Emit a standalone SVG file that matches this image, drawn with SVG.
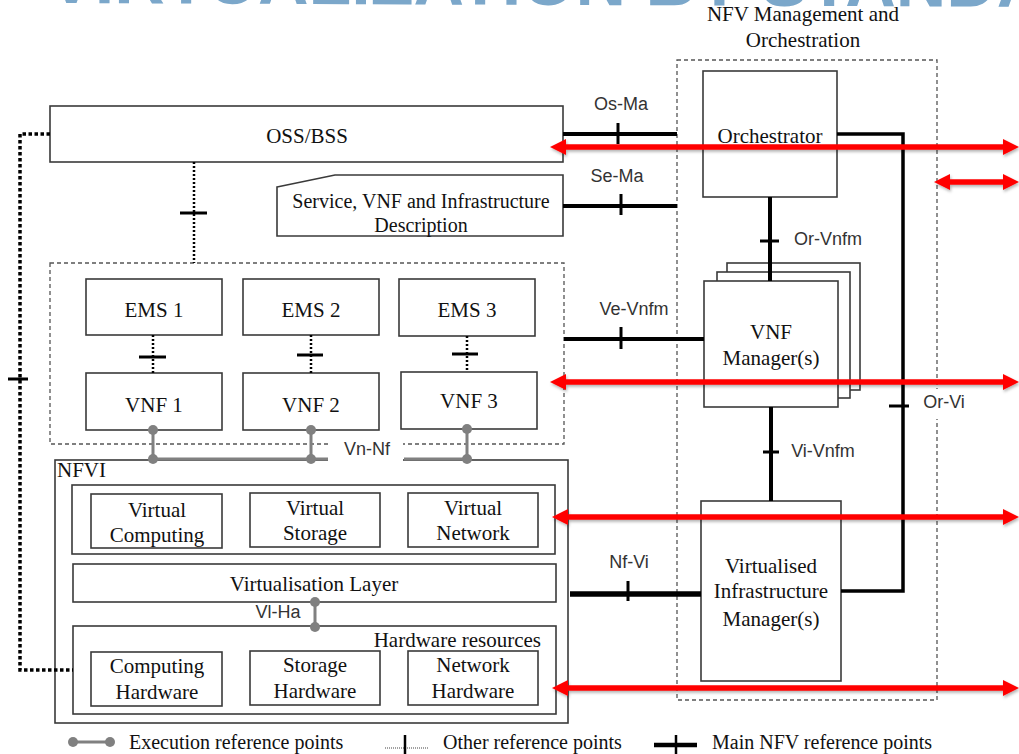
<svg xmlns="http://www.w3.org/2000/svg" width="1019" height="754" viewBox="0 0 1019 754">
<style>
.box{fill:#fff;stroke:#3a3a3a;stroke-width:1.6}
.dash{fill:none;stroke:#555;stroke-width:1.3;stroke-dasharray:4 3}
.main{stroke:#000;stroke-width:4;fill:none}
.tick{stroke:#000;stroke-width:3}
.other{stroke:#000;stroke-width:2.5;stroke-dasharray:2 2;fill:none}
.exec{stroke:#808080;stroke-width:3;fill:none}
.dot{fill:#808080}
.t{font-family:"Liberation Serif","Times New Roman",serif;font-size:21px;fill:#111;text-anchor:middle}
.l{font-family:"Liberation Sans",Arial,sans-serif;font-size:18px;fill:#333;text-anchor:middle}
.lg{font-family:"Liberation Serif","Times New Roman",serif;font-size:20px;fill:#111}
.red{stroke:#ff0000;stroke-width:5.5;marker-start:url(#ah);marker-end:url(#ah)}
</style>
<defs>
<marker id="ah" viewBox="0 0 16 16" refX="2" refY="8" markerWidth="16" markerHeight="16" markerUnits="userSpaceOnUse" orient="auto-start-reverse"><path d="M0,0 L16,8 L0,16 z" fill="#ff0000"/></marker>
<filter id="sh" x="-5%" y="-100%" width="110%" height="300%"><feDropShadow dx="1" dy="2" stdDeviation="1.5" flood-color="#000" flood-opacity="0.3"/></filter>
</defs>
<rect width="1019" height="754" fill="#fff"/>
<text x="48" y="3" transform="rotate(0.22 48 3)" font-family="Liberation Sans,Arial,sans-serif" font-weight="bold" font-size="70" fill="#7ba7ca">VIRTUALIZATION BY STANDARDS</text>

<g id="mano">
<rect class="dash" x="677" y="60" width="260" height="640"/>
<text class="t" x="803" y="21">NFV Management and</text>
<text class="t" x="803" y="47">Orchestration</text>
</g>

<g id="oss-bss"><rect class="box" x="50" y="106" width="513" height="56"/><text class="t" x="307" y="143">OSS/BSS</text></g>
<g id="description"><path class="box" d="M277,187 L335,175 L563,175 L563,236 L277,236 Z"/><text class="t" x="421" y="208" style="font-size:20px">Service, VNF and Infrastructure</text><text class="t" x="421" y="232" style="font-size:20px">Description</text></g>
<g id="orchestrator"><rect class="box" x="703" y="71" width="134" height="126"/><text class="t" x="770" y="143">Orchestrator</text></g>

<g id="vnfm">
<rect class="box" x="727" y="263" width="133" height="127"/>
<rect class="box" x="717" y="272" width="133" height="126"/>
<rect class="box" x="704" y="281" width="134" height="126"/>
<text class="t" x="771" y="339">VNF</text>
<text class="t" x="771" y="365">Manager(s)</text>
</g>
<g id="vim"><rect class="box" x="701" y="501" width="140" height="180"/><text class="t" x="771" y="573">Virtualised</text><text class="t" x="771" y="598">Infrastructure</text><text class="t" x="771" y="626">Manager(s)</text></g>

<g id="vnf-domain">
<rect class="dash" x="50" y="263" width="514" height="181"/>
</g>
<g id="ems1"><rect class="box" x="86" y="279" width="136" height="56"/><text class="t" x="154" y="317">EMS 1</text></g>
<g id="ems2"><rect class="box" x="243" y="279" width="136" height="56"/><text class="t" x="311" y="317">EMS 2</text></g>
<g id="ems3"><rect class="box" x="399" y="279" width="136" height="57"/><text class="t" x="467" y="317">EMS 3</text></g>
<g id="vnf1"><rect class="box" x="86" y="373" width="136" height="57"/><text class="t" x="154" y="412">VNF 1</text></g>
<g id="vnf2"><rect class="box" x="243" y="373" width="136" height="57"/><text class="t" x="311" y="412">VNF 2</text></g>
<g id="vnf3"><rect class="box" x="401" y="372" width="136" height="57"/><text class="t" x="469" y="408">VNF 3</text></g>

<g id="nfvi">
<rect class="box" x="55" y="460" width="513" height="263"/>
<text class="t" x="57" y="477" style="text-anchor:start">NFVI</text>
<rect class="box" x="72" y="485" width="483" height="69"/>
<rect class="box" x="73" y="564" width="483" height="38"/>
<text class="t" x="314" y="591">Virtualisation Layer</text>
<rect class="box" x="73" y="626" width="483" height="88"/>
<text class="t" x="541" y="647" style="text-anchor:end">Hardware resources</text>
</g>
<g id="virtual-computing"><rect class="box" x="91" y="494" width="131" height="54"/><text class="t" x="157" y="517">Virtual</text><text class="t" x="157" y="542">Computing</text></g>
<g id="virtual-storage"><rect class="box" x="250" y="493" width="130" height="54"/><text class="t" x="315" y="515">Virtual</text><text class="t" x="315" y="540">Storage</text></g>
<g id="virtual-network"><rect class="box" x="408" y="493" width="130" height="54"/><text class="t" x="473" y="515">Virtual</text><text class="t" x="473" y="540">Network</text></g>
<g id="computing-hw"><rect class="box" x="91" y="652" width="131" height="54"/><text class="t" x="157" y="673">Computing</text><text class="t" x="157" y="699">Hardware</text></g>
<g id="storage-hw"><rect class="box" x="250" y="651" width="130" height="54"/><text class="t" x="315" y="672">Storage</text><text class="t" x="315" y="698">Hardware</text></g>
<g id="network-hw"><rect class="box" x="408" y="651" width="130" height="54"/><text class="t" x="473" y="672">Network</text><text class="t" x="473" y="698">Hardware</text></g>

<g id="connectors">
<!-- main reference points -->
<line class="main" x1="563" y1="134" x2="677" y2="134"/><line class="tick" x1="618" y1="123" x2="618" y2="144"/>
<line class="main" x1="563" y1="206" x2="677" y2="206"/><line class="tick" x1="621" y1="194" x2="621" y2="215"/>
<line class="main" x1="770" y1="197" x2="770" y2="281"/><line class="tick" x1="760" y1="241" x2="779" y2="241"/>
<line class="main" x1="564" y1="339" x2="704" y2="339"/><line class="tick" x1="621" y1="327" x2="621" y2="349"/>
<line class="main" x1="771" y1="407" x2="771" y2="501"/><line class="tick" x1="763" y1="452" x2="779" y2="452"/>
<path class="main" style="stroke-width:3.5" d="M837,134 H903 V591 H841"/><line class="tick" x1="889" y1="406" x2="909" y2="406"/>
<line class="main" style="stroke-width:5.5" x1="570" y1="594" x2="701" y2="594"/><line class="tick" x1="628" y1="581" x2="628" y2="601"/>
<!-- other reference points -->
<path class="other" style="stroke-width:3.5;stroke-dasharray:3.5 2.5" d="M50,134 H20 V670 H73"/><line class="tick" x1="8" y1="379" x2="28" y2="379"/>
<line class="other" x1="194" y1="162" x2="194" y2="263"/><line class="tick" x1="180" y1="213" x2="207" y2="213"/>
<line class="other" x1="153" y1="335" x2="153" y2="373"/><line class="tick" x1="139" y1="357" x2="166" y2="357"/>
<line class="other" x1="311" y1="335" x2="311" y2="373"/><line class="tick" x1="297" y1="355" x2="323" y2="355"/>
<line class="other" x1="467" y1="336" x2="467" y2="372"/><line class="tick" x1="452" y1="354" x2="478" y2="354"/>
<!-- execution reference points -->
<rect x="328" y="438" width="75" height="28" fill="#fff"/>
<path class="exec" d="M153,430 V459 M311,430 V459 M467,429 V459 M153,459 H328 M404,459 H467 M315,602 V627"/>
<circle class="dot" cx="153" cy="430" r="5"/><circle class="dot" cx="153" cy="459" r="5"/>
<circle class="dot" cx="311" cy="430" r="5"/><circle class="dot" cx="311" cy="459" r="5"/>
<circle class="dot" cx="467" cy="429" r="5"/><circle class="dot" cx="467" cy="459" r="5"/>
<circle class="dot" cx="315" cy="602" r="5"/><circle class="dot" cx="315" cy="627" r="5"/>
<!-- labels -->
<text class="l" x="621" y="110">Os-Ma</text>
<text class="l" x="617" y="182">Se-Ma</text>
<text class="l" x="828" y="245">Or-Vnfm</text>
<text class="l" x="634" y="315">Ve-Vnfm</text>
<rect x="918" y="389" width="50" height="30" fill="#fff"/>
<text class="l" x="944" y="408">Or-Vi</text>
<text class="l" x="823" y="457">Vi-Vnfm</text>
<text class="l" x="367" y="455">Vn-Nf</text>
<text class="l" x="629" y="568">Nf-Vi</text>
<text class="l" x="278" y="618">Vl-Ha</text>
</g>

<g id="red-arrows" filter="url(#sh)">
<line class="red" x1="564" y1="147" x2="1005" y2="147"/>
<line class="red" x1="948" y1="182" x2="1005" y2="182"/>
<line class="red" x1="564" y1="382" x2="1005" y2="382"/>
<line class="red" x1="566" y1="517" x2="1005" y2="517"/>
<line class="red" x1="566" y1="688" x2="1005" y2="688"/>
</g>

<g id="legend">
<line class="exec" x1="73" y1="742" x2="110" y2="742"/><circle class="dot" cx="73" cy="742" r="5"/><circle class="dot" cx="110" cy="742" r="5"/>
<text class="lg" x="129" y="749">Execution reference points</text>
<line x1="385" y1="748" x2="429" y2="748" stroke="#444" stroke-width="1.2" stroke-dasharray="1 1"/><line x1="405" y1="735" x2="405" y2="754" stroke="#000" stroke-width="2.5"/>
<text class="lg" x="443" y="749">Other reference points</text>
<line x1="654" y1="745" x2="697" y2="745" stroke="#000" stroke-width="4.5"/><line x1="676" y1="735" x2="676" y2="754" stroke="#000" stroke-width="2.5"/>
<text class="lg" x="712" y="749">Main NFV reference points</text>
</g>
</svg>
